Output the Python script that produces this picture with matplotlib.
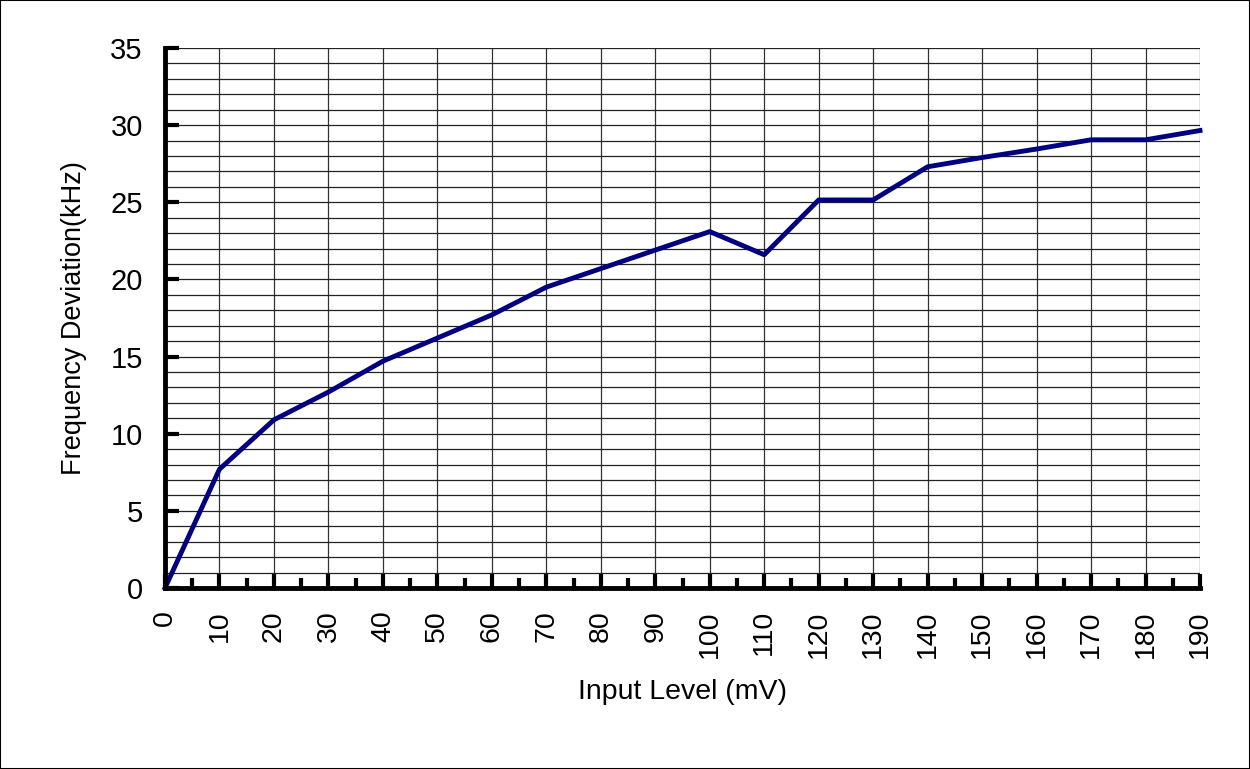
import matplotlib
matplotlib.use("Agg")
import matplotlib.pyplot as plt
from matplotlib.patches import Rectangle
from matplotlib.ticker import MultipleLocator

plt.rcParams['font.family'] = ['Liberation Sans', 'DejaVu Sans']

input_mv = [0, 10, 20, 30, 40, 50, 60, 70, 80, 90, 100,
            110, 120, 130, 140, 150, 160, 170, 180, 190]
deviation_khz = [0.0, 7.7, 10.9, 12.7, 14.7, 16.2, 17.7, 19.5, 20.7, 21.9, 23.1,
                 21.6, 25.15, 25.15, 27.3, 27.9, 28.45, 29.05, 29.05, 29.65]

fig = plt.figure(figsize=(12.5, 7.69), dpi=100)
ax = fig.add_axes([0.132, 0.2354, 0.828, 0.7022])

# grid: vertical every 10, horizontal every 1
ax.xaxis.set_major_locator(MultipleLocator(10))
ax.xaxis.set_minor_locator(MultipleLocator(5))
ax.yaxis.set_major_locator(MultipleLocator(5))
ax.yaxis.set_minor_locator(MultipleLocator(1))
for v in range(10, 200, 10):
    ax.axvline(v, color='#333333', lw=0.9, zorder=1)
for h in range(1, 36):
    ax.axhline(h, color='#222222', lw=0.9, zorder=1)

ax.plot(input_mv, deviation_khz, color='#000080', lw=3.5, zorder=3,
        solid_joinstyle='round', clip_on=False)

ax.set_xlim(0, 190)
ax.set_ylim(0, 35)

for s in ['top', 'right']:
    ax.spines[s].set_visible(False)
for s in ['left', 'bottom']:
    ax.spines[s].set_linewidth(3.5)
    ax.spines[s].set_zorder(4)

ax.tick_params(axis='y', which='major', direction='in', length=10, width=3,
               labelsize=21, pad=16)
ax.tick_params(axis='y', which='minor', length=0)
ax.tick_params(axis='x', which='major', direction='in', length=10, width=3,
               labelsize=20.5, pad=16, labelrotation=90)
ax.tick_params(axis='x', which='minor', direction='in', length=7, width=3)

ax.set_xlabel('Input Level (mV)', fontsize=20.5, labelpad=15)
ax.set_ylabel('Frequency Deviation(kHz)', fontsize=19.5, labelpad=17)

fig.patches.append(Rectangle((0, 0), 1, 1, transform=fig.transFigure,
                             fill=False, edgecolor='black', lw=1.5))

fig.savefig('out.png', dpi=100)
